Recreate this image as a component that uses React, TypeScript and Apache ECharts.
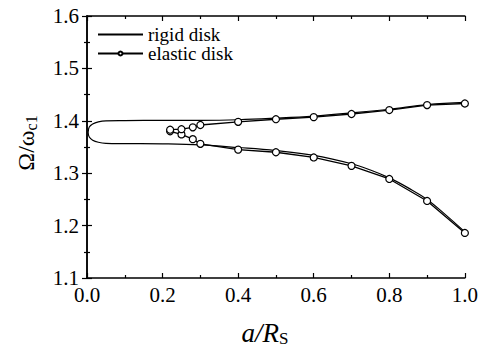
import React, { useEffect, useRef } from "react";
import * as echarts from "echarts";

// rigid disk curve: traced from lower branch (a/Rs = 1 -> 0) then upper branch (0 -> 1)
const rigidX = [1.0, 0.95, 0.9, 0.85, 0.8, 0.75, 0.7, 0.6, 0.5, 0.4, 0.3, 0.2, 0.1, 0.05, 0.03, 0.015, 0.006, 0.003, 0.006, 0.015, 0.03, 0.05, 0.1, 0.2, 0.3, 0.4, 0.5, 0.6, 0.7, 0.8, 0.9, 1.0];
const rigidY = [1.188, 1.22, 1.25, 1.272, 1.291, 1.306, 1.318, 1.334, 1.343, 1.349, 1.354, 1.356, 1.3565, 1.357, 1.359, 1.363, 1.369, 1.378, 1.388, 1.394, 1.398, 1.4, 1.4005, 1.401, 1.401, 1.402, 1.405, 1.409, 1.415, 1.422, 1.431, 1.435];

// elastic disk points: lower branch then upper branch
const elasticX = [1.0, 0.9, 0.8, 0.7, 0.6, 0.5, 0.4, 0.3, 0.28, 0.25, 0.22, 0.22, 0.25, 0.28, 0.3, 0.4, 0.5, 0.6, 0.7, 0.8, 0.9, 1.0];
const elasticY = [1.186, 1.247, 1.289, 1.314, 1.33, 1.34, 1.345, 1.356, 1.365, 1.374, 1.38, 1.383, 1.384, 1.3875, 1.392, 1.398, 1.403, 1.407, 1.413, 1.4205, 1.43, 1.433];

const seriesNames = ["rigid disk", "elastic disk"];

const FONT = "Liberation Serif";

export default function App() {
  const ref = useRef<HTMLDivElement>(null);
  useEffect(() => {
    if (!ref.current) return;
    const chart = echarts.init(ref.current, null, { renderer: "svg" });
    const rigid = rigidX.map((x, i) => [x, rigidY[i]]);
    const elastic = elasticX.map((x, i) => [x, elasticY[i]]);
    const axisLine = { show: true, lineStyle: { color: "#000", width: 1.5 } };
    const tickX = { show: true, inside: true, length: 5, lineStyle: { color: "#000", width: 1.2 } };
    const minorX = { show: true, splitNumber: 2, length: 3, lineStyle: { color: "#000", width: 1.2 } };
    chart.setOption({
      animation: false,
      backgroundColor: "#fff",
      textStyle: { fontFamily: FONT },
      grid: { left: 87, right: 13, top: 16, bottom: 68, containLabel: false },
      legend: {
        orient: "vertical",
        left: 97,
        top: 25,
        padding: 0,
        itemWidth: 45,
        itemHeight: 5,
        itemGap: 0,
        data: [
          { name: seriesNames[0], itemStyle: { opacity: 0 } },
          { name: seriesNames[1] },
        ],
        textStyle: { fontFamily: FONT, fontSize: 19, lineHeight: 19, color: "#000" },
      },
      xAxis: [
        {
          type: "value",
          min: 0,
          max: 1,
          interval: 0.2,
          position: "bottom",
          axisLine,
          axisTick: tickX,
          minorTick: minorX,
          splitLine: { show: false },
          axisLabel: {
            fontFamily: FONT,
            fontSize: 21,
            color: "#000",
            margin: 6,
            formatter: (v: number) => v.toFixed(1),
          },
          name: "{i|a/R}{s|S}",
          nameLocation: "middle",
          nameGap: 41,
          nameTextStyle: {
            padding: [0, 22, 0, 0],
            rich: {
              i: { fontFamily: FONT, fontStyle: "italic", fontSize: 27, color: "#000", lineHeight: 28 },
              s: { fontFamily: FONT, fontSize: 17, color: "#000", lineHeight: 13, verticalAlign: "bottom" },
            },
          },
        },
        {
          type: "value",
          min: 0,
          max: 1,
          interval: 0.2,
          position: "top",
          axisLine,
          axisTick: tickX,
          minorTick: minorX,
          splitLine: { show: false },
          axisLabel: { show: false },
        },
      ],
      yAxis: [
        {
          type: "value",
          min: 1.1,
          max: 1.6,
          interval: 0.1,
          position: "left",
          axisLine,
          axisTick: tickX,
          minorTick: minorX,
          splitLine: { show: false },
          axisLabel: {
            fontFamily: FONT,
            fontSize: 21,
            color: "#000",
            margin: 8,
            formatter: (v: number) => v.toFixed(1),
          },
          name: "{i|Ω/ω}{s|c1}",
          nameLocation: "middle",
          nameGap: 48,
          nameRotate: 90,
          nameTextStyle: {
            padding: [0, 0, 0, 8],
            rich: {
              i: { fontFamily: FONT, fontSize: 24, color: "#000", lineHeight: 26 },
              s: { fontFamily: FONT, fontSize: 16, color: "#000", lineHeight: 12, verticalAlign: "bottom" },
            },
          },
        },
        {
          type: "value",
          min: 1.1,
          max: 1.6,
          interval: 0.1,
          position: "right",
          axisLine,
          axisTick: tickX,
          minorTick: minorX,
          splitLine: { show: false },
          axisLabel: { show: false },
        },
      ],
      series: [
        {
          name: seriesNames[0],
          type: "line",
          data: rigid,
          symbol: "none",
          smooth: 0.4,
          lineStyle: { color: "#000", width: 1.2 },
          itemStyle: { color: "#000" },
          z: 2,
        },
        {
          name: seriesNames[1],
          type: "line",
          data: elastic,
          symbol: "circle",
          symbolSize: 7,
          showAllSymbol: true,
          lineStyle: { color: "#000", width: 1.3 },
          itemStyle: { color: "#fff", borderColor: "#000", borderWidth: 1.2 },
          z: 3,
        },
      ],
    });
    return () => chart.dispose();
  }, []);
  return <div ref={ref} style={{ width: 481, height: 352, position: "absolute", left: 0, top: 0 }} />;
}
